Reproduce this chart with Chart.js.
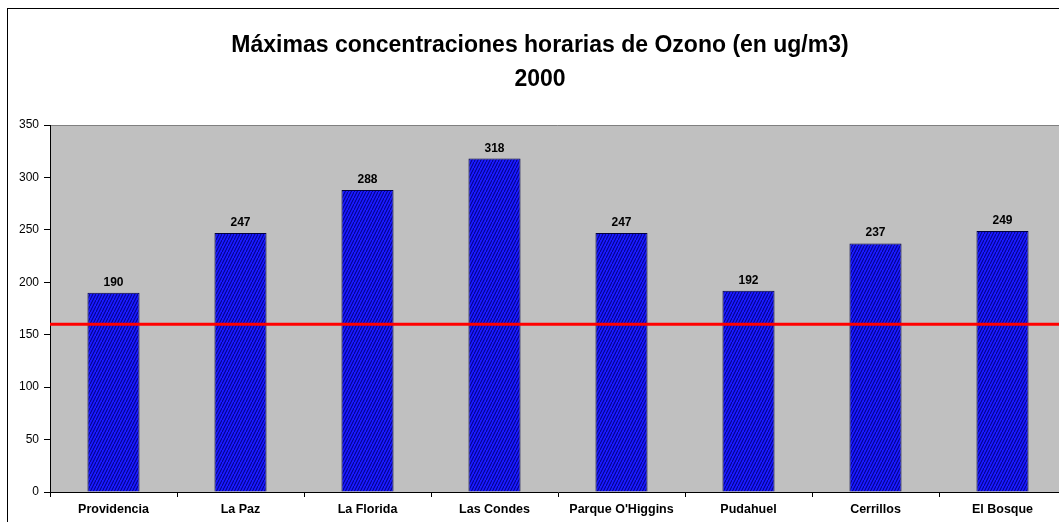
<!DOCTYPE html>
<html>
<head>
<meta charset="utf-8">
<script src="https://cdn.jsdelivr.net/npm/chart.js@4/dist/chart.umd.min.js"></script>
<style>
  html, body { margin: 0; padding: 0; background: #fff; overflow: hidden; }
  #wrap { position: relative; width: 1080px; height: 522px; }
</style>
</head>
<body>
<div id="wrap"><canvas id="chart" width="1080" height="522"></canvas></div>
<script>
// Ozone hourly maxima per station, year 2000
const stations = ['Providencia', 'La Paz', 'La Florida', 'Las Condes', "Parque O'Higgins", 'Pudahuel', 'Cerrillos', 'El Bosque'];
const maxOzone = [190, 247, 288, 318, 247, 192, 237, 249];
const normLimit = 160;
const yTicks = [0, 50, 100, 150, 200, 250, 300, 350];
const titleLines = ['Máximas concentraciones horarias de Ozono (en ug/m3)', '2000'];

const FONT = "'Liberation Sans', Arial, sans-serif";

// blue fill with dark slanted hatching
function hatchPattern() {
  const c = document.createElement('canvas');
  c.width = 6; c.height = 6;
  const g = c.getContext('2d');
  g.fillStyle = '#1a1aff';
  g.fillRect(0, 0, 6, 6);
  g.strokeStyle = '#00007a';
  g.lineWidth = 1;
  g.beginPath();
  g.moveTo(0, 6); g.lineTo(3, 0);
  g.moveTo(3, 6); g.lineTo(6, 0);
  g.stroke();
  return document.getElementById('chart').getContext('2d').createPattern(c, 'repeat');
}

const framePlugin = {
  id: 'frame',
  beforeDraw(chart) {
    const { ctx, chartArea: a } = chart;
    ctx.save();
    ctx.fillStyle = '#c0c0c0';
    ctx.fillRect(a.left, a.top, a.right - a.left, a.bottom - a.top);
    ctx.strokeStyle = '#808080';
    ctx.lineWidth = 1;
    ctx.beginPath();
    ctx.moveTo(a.left, a.top + 0.5);
    ctx.lineTo(a.right - 0.5, a.top + 0.5);
    ctx.lineTo(a.right - 0.5, a.bottom);
    ctx.stroke();
    // outer chart border
    ctx.strokeStyle = '#000';
    ctx.strokeRect(7.5, 8.5, 1200, 600);
    ctx.restore();
  },
  afterDatasetsDraw(chart) {
    const { ctx, chartArea: a, scales } = chart;
    const y = scales.y.getPixelForValue(normLimit);
    ctx.save();
    ctx.strokeStyle = '#ff0000';
    ctx.lineWidth = 3;
    ctx.beginPath();
    ctx.moveTo(a.left, y);
    ctx.lineTo(a.right, y);
    ctx.stroke();

    // value labels above bars
    ctx.fillStyle = '#000';
    ctx.font = 'bold 12px ' + FONT;
    ctx.textAlign = 'center';
    ctx.textBaseline = 'alphabetic';
    chart.getDatasetMeta(0).data.forEach((bar, i) => {
      ctx.fillText(String(maxOzone[i]), bar.x, bar.y - 7);
    });

    // title
    ctx.font = 'bold 23px ' + FONT;
    ctx.fillText(titleLines[0], 540, 52);
    ctx.fillText(titleLines[1], 540, 86);
    ctx.restore();
  }
};

new Chart(document.getElementById('chart'), {
  type: 'bar',
  data: {
    labels: stations,
    datasets: [{
      data: maxOzone,
      backgroundColor: hatchPattern(),
      borderColor: '#000040',
      borderWidth: 1,
      barPercentage: 0.41,
      categoryPercentage: 1
    }]
  },
  options: {
    responsive: false,
    animation: false,
    layout: { padding: { top: 125, right: 14, left: 0, bottom: 0 } },
    plugins: { legend: { display: false }, title: { display: false }, tooltip: { enabled: false } },
    scales: {
      x: {
        offset: true,
        grid: { offset: true, drawOnChartArea: false, tickLength: 5, color: '#000' },
        border: { color: '#000' },
        ticks: { color: '#000', font: { family: FONT, size: 12.5, weight: 'bold' }, padding: 5, maxRotation: 0, autoSkip: false },
        afterFit(s) { s.height = 30; }
      },
      y: {
        min: 0, max: 350,
        afterBuildTicks(s) { s.ticks = yTicks.map(v => ({ value: v })); },
        grid: { drawOnChartArea: false, tickLength: 6, color: '#000' },
        border: { color: '#000' },
        ticks: { color: '#000', font: { family: FONT, size: 12 }, padding: 5 },
        afterFit(s) { s.width = 50; }
      }
    }
  },
  plugins: [framePlugin]
});
</script>
</body>
</html>
